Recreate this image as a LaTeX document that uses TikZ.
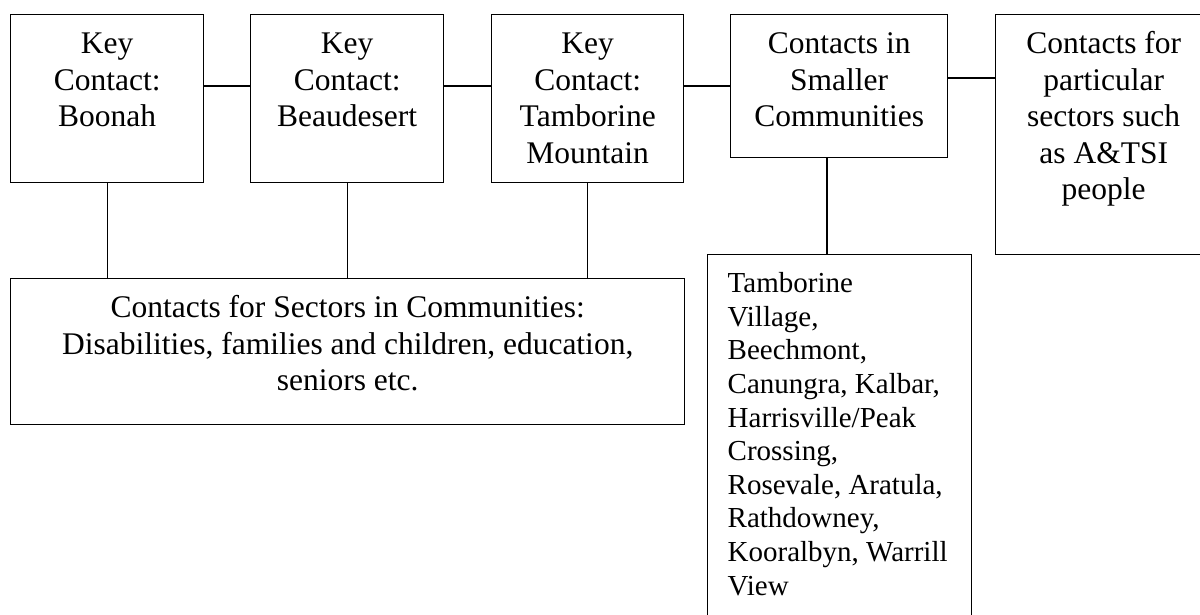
\documentclass[tikz,border=0pt]{standalone}
\usepackage{fontspec}
\setmainfont{Liberation Serif}
\tikzset{
  box/.style={draw, line width=1.4pt, inner sep=0pt, anchor=north west},
  link/.style={line width=1.4pt},
}
\newcommand{\bx}[4]{\parbox[t][#2][t]{#1}{\centering\fontsize{31.5pt}{36.5pt}\selectfont\vspace*{#3}\strut #4\par}}
\begin{document}
\begin{tikzpicture}[x=1pt,y=-1pt]
\useasboundingbox (0,0) rectangle (1200,615);
\clip (0,0) rectangle (1200,615);
\fill[white] (0,0) rectangle (1200,615);
\node[box] (b1) at (10,14) {\bx{193pt}{168pt}{13.5pt}{Key\\Contact:\\Boonah}};
\node[box] (b2) at (250,14) {\bx{193pt}{168pt}{13.5pt}{Key\\Contact:\\Beaudesert}};
\node[box] (b3) at (491,14) {\bx{192pt}{168pt}{13.5pt}{Key\\Contact:\\Tamborine\\Mountain}};
\node[box] (b4) at (730,14) {\bx{217pt}{143pt}{13.5pt}{Contacts in\\Smaller\\Communities}};
\node[box] (b5) at (995,14) {\bx{216pt}{240pt}{13.5pt}{Contacts for\\particular\\sectors such\\as A\&TSI\\people}};
\node[box] (sec) at (10,278) {\bx{674pt}{146pt}{13.5pt}{Contacts for Sectors in Communities:\\Disabilities, families and children, education,\\seniors etc.}};
\node[box] (list) at (707,254) {\parbox[t][390pt][t]{264pt}{\raggedright\leftskip=20pt\fontsize{29pt}{33.6pt}\selectfont\vspace*{14.5pt}\strut Tamborine\\Village,\\Beechmont,\\Canungra, Kalbar,\\Harrisville/Peak\\Crossing,\\Rosevale, Aratula,\\Rathdowney,\\Kooralbyn, Warrill\\View\par}};
\coordinate (h1) at (0,86);
\coordinate (h2) at (0,78);
\coordinate (v4) at (827,0);
\draw[link] (b1.east |- h1) -- (b2.west |- h1);
\draw[link] (b2.east |- h1) -- (b3.west |- h1);
\draw[link] (b3.east |- h1) -- (b4.west |- h1);
\draw[link] (b4.east |- h2) -- (b5.west |- h2);
\draw[link] (b1.south) -- (b1.south |- sec.north);
\draw[link] (b2.south) -- (b2.south |- sec.north);
\draw[link] (b3.south) -- (b3.south |- sec.north);
\draw[link] (v4 |- b4.south) -- (v4 |- list.north);
\end{tikzpicture}
\end{document}
